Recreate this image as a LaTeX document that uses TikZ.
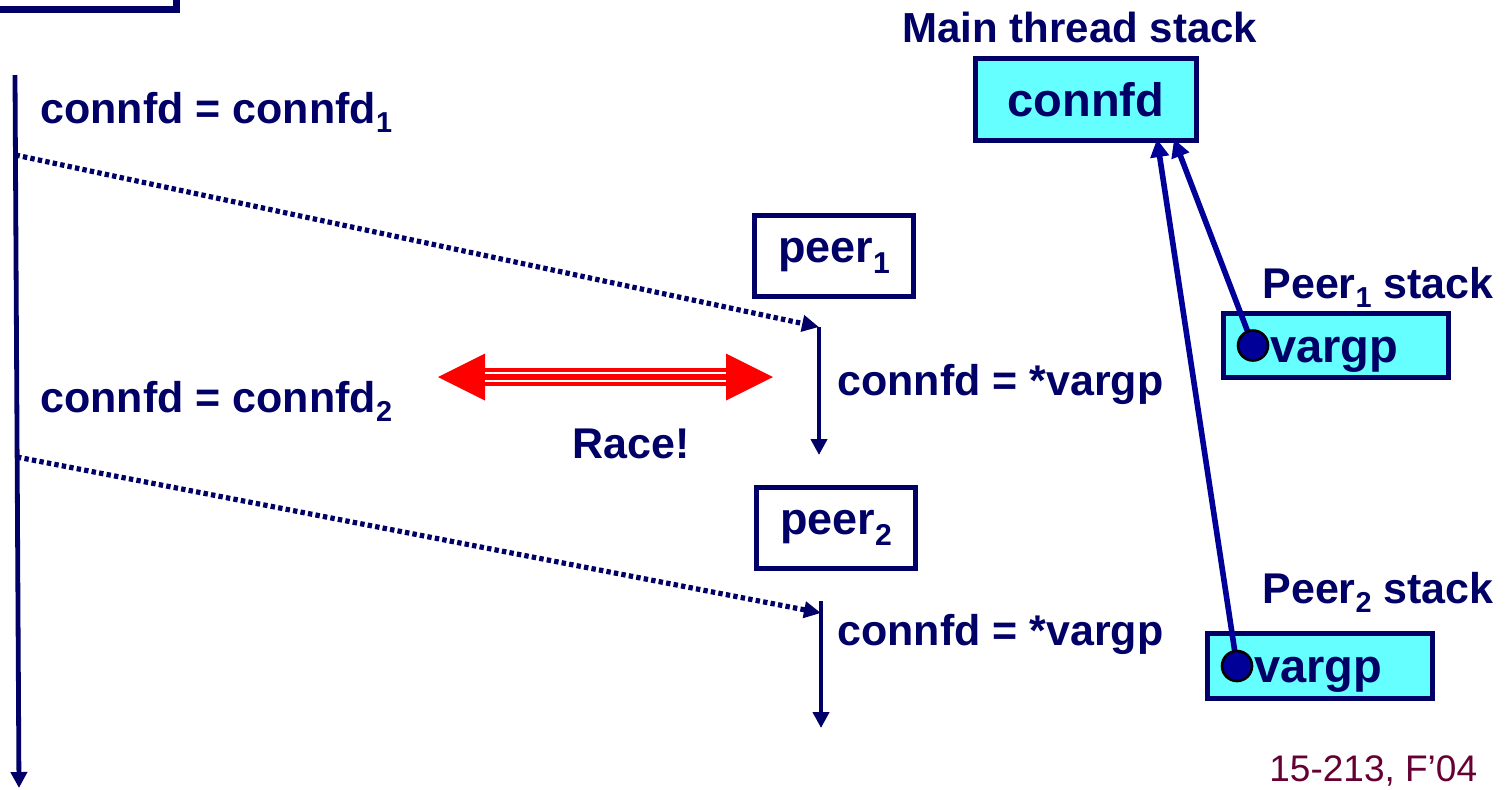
\documentclass[tikz,border=0pt]{standalone}
\usepackage{fontspec}
\usepackage{graphicx}
\setmainfont{Liberation Sans}
\usetikzlibrary{arrows.meta}
\definecolor{navy}{HTML}{000066}
\definecolor{ptrblue}{HTML}{000099}
\definecolor{stackcyan}{HTML}{66FFFF}
\definecolor{slidered}{HTML}{660033}
\newcommand{\subidx}[1]{\raisebox{-0.23em}{\scalebox{0.67}{#1}}}

\begin{document}
\begin{tikzpicture}[x=0.5pt, y=-0.5pt,
  lbl/.style={text=navy, font=\fontsize{21.5}{26}\selectfont\bfseries, inner sep=0pt, anchor=base west},
  peerbox/.style={draw=navy, line width=2.5pt, text=navy, font=\fontsize{22.5}{27}\selectfont\bfseries, minimum width=79.5pt, minimum height=40.5pt, inner sep=0pt},
  stackbox/.style={draw=navy, fill=stackcyan, line width=2.5pt, text=navy, font=\fontsize{23.5}{28}\selectfont\bfseries, inner sep=0pt},
  flow/.style={navy, line width=2.4pt, -{Triangle[length=8pt,width=8pt]}},
  spawn/.style={navy, line width=2.6pt, dash pattern=on 2.2pt off 1.6pt, -{Triangle[length=8.5pt,width=8pt]}},
  ptr/.style={ptrblue, line width=2.8pt, -{Triangle[length=9pt,width=9pt]}},
  ptrdot/.style={circle, draw=black, line width=1.3pt, fill=ptrblue, minimum size=15pt, inner sep=0pt}]

\useasboundingbox (0,0) rectangle (1508,789);
\clip (0,0) rectangle (1508,789);

\draw[navy, line width=3.5pt] (-20,-40) rectangle (176,9);

\coordinate (mtop) at (15,75);
\coordinate (mend) at (19,788);
\draw[flow] (mtop) -- (mend);

\node[lbl] (asg1) at (40,123) {connfd = connfd\subidx{1}};
\node[lbl] (asg2) at (40,412) {connfd = connfd\subidx{2}};

\node[peerbox] (peer1) at (834,256) {peer\subidx{1}};
\node[peerbox] (peer2) at (836,528) {peer\subidx{2}};

\coordinate (fork1) at (15.5,155);
\coordinate (fork2) at (17,457);
\coordinate (t1top) at (819,327);
\coordinate (t1end) at (819,455);
\coordinate (t2top) at (821,601);
\coordinate (t2end) at (821,728);
\draw[spawn] (fork1) -- (t1top);
\draw[spawn] (fork2) -- ([yshift=-6pt]t2top);
\draw[flow] (t1top) -- (t1end);
\draw[flow] (t2top) -- (t2end);

\node[lbl] (rd1) at (837,395) {connfd = *vargp};
\node[lbl] (rd2) at (837,645) {connfd = *vargp};

\coordinate (raceL) at (438,377);
\coordinate (raceR) at (773,377);
\fill[red] (raceL) -- ++(47,-23.5) -- ++(0,47) -- cycle;
\fill[red] (raceR) -- ++(-47,-23.5) -- ++(0,47) -- cycle;
\draw[red, line width=8.7pt] ([xshift=23.5pt]raceL) -- ([xshift=-23.5pt]raceR);
\draw[white, line width=1.2pt, double=red, double distance=2.6pt] ([xshift=23.5pt]raceL) -- ([xshift=-23.5pt]raceR);
\node[lbl] (race) at (572,458) {Race!};

\node[lbl, font=\fontsize{21}{26}\selectfont\bfseries] (mainlbl) at (902,42) {Main thread stack};
\node[stackbox, minimum width=110.5pt, minimum height=41pt] (mainfd) at (1086,99.5) {connfd};

\node[lbl] (stk1lbl) at (1262,298) {Peer\subidx{1} stack};
\node[stackbox, anchor=west, text width=66pt, align=left, inner xsep=23.3pt, minimum height=32.3pt, text height=16.5pt, text depth=0pt] (vp1) at (1221,345.5) {vargp};
\node[lbl] (stk2lbl) at (1262,603) {Peer\subidx{2} stack};
\node[stackbox, anchor=west, text width=66pt, align=left, inner xsep=23.3pt, minimum height=32.3pt, text height=16.5pt, text depth=0pt] (vp2) at (1205,666) {vargp};

\coordinate (p1) at ([xshift=16pt]vp1.west);
\coordinate (p2) at ([xshift=16pt]vp2.west);
\draw[ptr] (p1) -- ([xshift=44pt,yshift=2pt]mainfd.south);
\draw[ptr] (p2) -- ([xshift=35.5pt,yshift=2pt]mainfd.south);
\node[ptrdot] (dot1) at (p1) {};
\node[ptrdot] (dot2) at (p2) {};

\node[anchor=base west, inner sep=0pt, text=slidered, font=\fontsize{18.5}{22}\selectfont] (footer) at (1269,781) {15-213, F'04};
\end{tikzpicture}
\end{document}
